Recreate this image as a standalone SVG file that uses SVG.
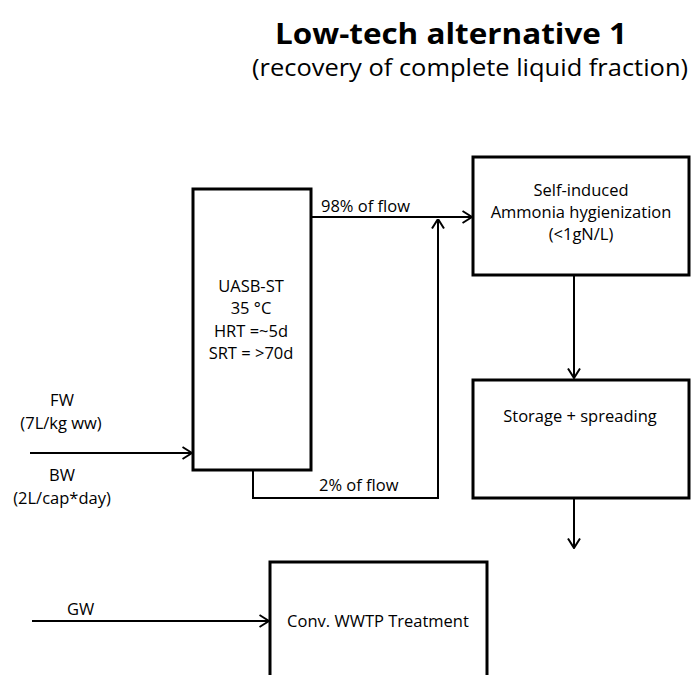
<svg xmlns="http://www.w3.org/2000/svg" width="691" height="675" viewBox="0 0 691 675">
  <style>
    .box { fill: #ffffff; stroke: #000000; stroke-width: 3; }
    .flow { fill: none; stroke: #000000; stroke-width: 2; }
    .label { font-family: "Open Sans", "Liberation Sans", sans-serif; font-size: 16.5px; fill: #000000; }
    .mid { text-anchor: middle; }
    .title { font-family: "Open Sans", "Liberation Sans", sans-serif; font-weight: bold; font-size: 28px; fill: #000000; text-anchor: middle; }
    .subtitle { font-family: "Open Sans", "Liberation Sans", sans-serif; font-size: 23px; fill: #000000; text-anchor: middle; }
  </style>
  <defs>
    <marker id="arrow" viewBox="0 0 11 14" refX="10.5" refY="7" markerWidth="11" markerHeight="14" markerUnits="userSpaceOnUse" orient="auto">
      <polyline points="1,1 10.5,7 1,13" fill="none" stroke="#000000" stroke-width="2"/>
    </marker>
  </defs>
  <rect width="691" height="675" fill="#ffffff"/>

  <g id="title">
    <text class="title" x="451" y="44" textLength="352" lengthAdjust="spacingAndGlyphs">Low-tech alternative 1</text>
    <text class="subtitle" x="470" y="76" textLength="436" lengthAdjust="spacingAndGlyphs">(recovery of complete liquid fraction)</text>
  </g>

  <g id="connectors">
    <!-- FW/BW feed into the reactor -->
    <line class="flow" x1="30" y1="453" x2="192" y2="453" marker-end="url(#arrow)"/>
    <!-- main effluent to hygienization -->
    <line class="flow" x1="311" y1="217" x2="472" y2="217" marker-end="url(#arrow)"/>
    <!-- bypass stream joining the main effluent -->
    <polyline class="flow" points="253,470 253,498 438,498 438,219" marker-end="url(#arrow)"/>
    <!-- hygienization to storage -->
    <line class="flow" x1="574" y1="276" x2="574" y2="378" marker-end="url(#arrow)"/>
    <!-- storage outlet -->
    <line class="flow" x1="574" y1="498" x2="574" y2="548" marker-end="url(#arrow)"/>
    <!-- GW to WWTP -->
    <line class="flow" x1="32" y1="621" x2="269" y2="621" marker-end="url(#arrow)"/>
  </g>

  <g id="uasb">
    <rect class="box" x="193" y="189" width="118" height="281"/>
    <text class="label mid" x="251" y="292">UASB-ST</text>
    <text class="label mid" x="251" y="314">35 °C</text>
    <text class="label mid" x="251" y="337">HRT =~5d</text>
    <text class="label mid" x="251" y="359">SRT = &gt;70d</text>
  </g>

  <g id="hygienization">
    <rect class="box" x="473" y="157" width="216" height="118"/>
    <text class="label mid" x="581" y="196">Self-induced</text>
    <text class="label mid" x="581" y="218">Ammonia hygienization</text>
    <text class="label mid" x="581" y="240">(&lt;1gN/L)</text>
  </g>

  <g id="storage">
    <rect class="box" x="473" y="380" width="216" height="118"/>
    <text class="label mid" x="580" y="422">Storage + spreading</text>
  </g>

  <g id="wwtp">
    <rect class="box" x="270" y="562" width="217" height="130"/>
    <text class="label mid" x="378" y="627">Conv. WWTP Treatment</text>
  </g>

  <g id="flow-labels">
    <text class="label" x="321" y="212">98% of flow</text>
    <text class="label" x="319" y="491">2% of flow</text>
    <text class="label mid" x="62" y="406">FW</text>
    <text class="label mid" x="61" y="429">(7L/kg ww)</text>
    <text class="label mid" x="62" y="481">BW</text>
    <text class="label mid" x="62" y="504">(2L/cap*day)</text>
    <text class="label" x="67" y="615">GW</text>
  </g>
</svg>
